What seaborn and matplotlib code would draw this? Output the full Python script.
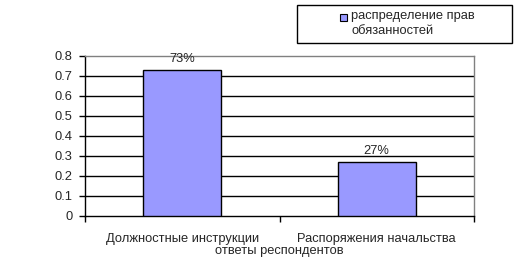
import matplotlib
matplotlib.use("Agg")
import matplotlib.pyplot as plt
import seaborn as sns
import pandas as pd
from matplotlib.patches import Rectangle

categories = ["Должностные инструкции", "Распоряжения начальства"]
values = [0.73, 0.27]
value_labels = ["73%", "27%"]
series_name = "распределение прав\nобязанностей"
yticks = [0, 0.1, 0.2, 0.3, 0.4, 0.5, 0.6, 0.7, 0.8]
ytick_labels = ["0", "0.1", "0.2", "0.3", "0.4", "0.5", "0.6", "0.7", "0.8"]
xlabel = "ответы респондентов"

sns.set_theme(style="white")
plt.rcParams['font.family'] = ['Liberation Sans', 'DejaVu Sans']

FS = 9.3
BAR = "#9999FF"
W, H = 521, 269

df = pd.DataFrame({"cat": categories, "val": values})

fig = plt.figure(figsize=(W/100, H/100), dpi=100)
ax = fig.add_axes([85/W, 1-216/H, (474-85)/W, 160/H])

sns.barplot(data=df, x="cat", y="val", ax=ax, color=BAR,
            edgecolor="black", linewidth=1, width=0.4, saturation=1, zorder=3)

ax.set_ylim(0, 0.8)
ax.set_xlim(-0.5, 1.5)
ax.set_yticks(yticks)
ax.set_yticklabels(ytick_labels, fontsize=FS)
for y in yticks[1:-1]:
    ax.axhline(y, color="black", lw=1, zorder=1)

ax.set_xticks([-0.5, 0.5, 1.5], minor=False)
ax.set_xticklabels([])
ax.set_xticks([0, 1], minor=True)
ax.set_xticklabels(categories, minor=True, fontsize=FS)
ax.tick_params(axis="x", which="minor", length=0, pad=12)
ax.tick_params(axis="x", which="major", length=4, direction="out", color="black", width=1)
ax.tick_params(axis="y", length=4, direction="out", color="black", width=1, pad=5)
ax.xaxis.set_ticks_position("bottom")
ax.yaxis.set_ticks_position("left")

for s in ["top", "right"]:
    ax.spines[s].set_color("#808080")
    ax.spines[s].set_linewidth(1)
for s in ["left", "bottom"]:
    ax.spines[s].set_color("black")
    ax.spines[s].set_linewidth(1)

for i, (v, lab) in enumerate(zip(values, value_labels)):
    ax.text(i, v + 0.025, lab, ha="center", va="bottom", fontsize=FS, zorder=4)

ax.set_xlabel(xlabel, fontsize=FS, labelpad=0)
ax.set_ylabel("")

# legend box drawn in figure pixel coordinates
fig.patches.append(Rectangle((297/W, 1-43/H), (512-297)/W, 38/H,
                             transform=fig.transFigure, facecolor="white",
                             edgecolor="black", linewidth=1))
fig.patches.append(Rectangle((340/W, 1-21/H), 7/W, 7/H,
                             transform=fig.transFigure, facecolor=BAR,
                             edgecolor="black", linewidth=0.8))
fig.text(351/W, 1-10/H, series_name, ha="left", va="top", fontsize=FS,
         linespacing=1.35)

fig.savefig("out.png", dpi=100)
